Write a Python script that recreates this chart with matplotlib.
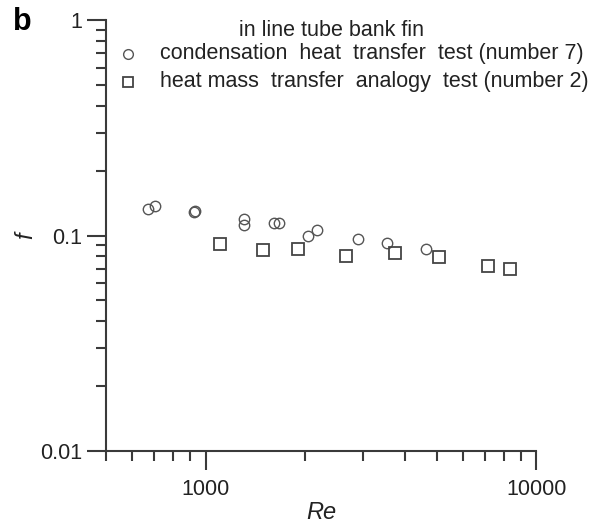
import numpy as np
import matplotlib
matplotlib.use("Agg")
import matplotlib.pyplot as plt
from matplotlib.ticker import LogLocator, NullFormatter, FixedLocator, FixedFormatter

plt.rcParams['font.family'] = ['Liberation Sans', 'DejaVu Sans']

# condensation heat transfer test (number 7)
re_cond = [671, 704, 924, 930, 1310, 1310, 1607, 1664, 2037, 2175, 2895, 3545, 4653]
f_cond = [0.1327, 0.1375, 0.1289, 0.1303, 0.1193, 0.1119, 0.1139, 0.1139,
          0.0992, 0.1060, 0.0963, 0.0926, 0.0863]

# heat mass transfer analogy test (number 2)
re_hm = [1108, 1488, 1900, 2668, 3755, 5088, 7172, 8339]
f_hm = [0.0913, 0.0857, 0.0869, 0.0806, 0.0827, 0.0793, 0.0724, 0.0697]

y_ticks = [0.01, 0.1, 1]
y_labels = ['0.01', '0.1', '1']
x_ticks = [1000, 10000]
x_labels = ['1000', '10000']

col = '#3a3a3a'
txt = '#222222'

fig = plt.figure(figsize=(5.99, 5.27), dpi=100)
ax = fig.add_axes([0.177, 0.1442, 0.718, 0.8178])

ax.plot(re_cond, f_cond, 'o', ms=7.5, mfc='none', mec='#555555', mew=1.0)
ax.plot(re_hm, f_hm, 's', ms=8, mfc='none', mec='#444444', mew=1.3)

ax.set_xscale('log')
ax.set_yscale('log')
ax.set_xlim(500, 10000)
ax.set_ylim(0.01, 1)

ax.xaxis.set_major_locator(FixedLocator(x_ticks))
ax.xaxis.set_major_formatter(FixedFormatter(x_labels))
ax.xaxis.set_minor_locator(LogLocator(base=10, subs=np.arange(2, 10)))
ax.xaxis.set_minor_formatter(NullFormatter())
ax.yaxis.set_major_locator(FixedLocator(y_ticks))
ax.yaxis.set_major_formatter(FixedFormatter(y_labels))
ax.yaxis.set_minor_locator(LogLocator(base=10, subs=np.arange(2, 10)))
ax.yaxis.set_minor_formatter(NullFormatter())

for s in ['top', 'right']:
    ax.spines[s].set_visible(False)
for s in ['left', 'bottom']:
    ax.spines[s].set_linewidth(1.5)
    ax.spines[s].set_color(col)

ax.tick_params(which='major', direction='out', length=14, width=1.5, color=col,
               labelsize=15.5, labelcolor=txt)
ax.tick_params(axis='x', which='major', pad=6)
ax.tick_params(axis='y', which='major', pad=3)
ax.tick_params(which='minor', direction='out', length=7, width=1.5, color=col)

ax.set_xlabel('Re', style='italic', fontsize=17, color=txt, labelpad=1)
ax.set_ylabel('f', style='italic', fontsize=17, color=txt, labelpad=2)

# legend written as text + markers, like the original figure
lx = 127.7 / 599
row1 = 1 - 54 / 527
row2 = 1 - 81.7 / 527
fig.text(0.553, 1 - 30 / 527, 'in line tube bank fin', ha='center', va='center',
         fontsize=15.5, color=txt)
fig.add_artist(plt.Line2D([lx], [row1], marker='o', ms=7, mfc='none',
                          mec='#555555', mew=1.0, transform=fig.transFigure))
fig.add_artist(plt.Line2D([lx], [row2], marker='s', ms=7.5, mfc='none',
                          mec='#444444', mew=1.3, transform=fig.transFigure))
fig.text(160 / 599, row1, 'condensation  heat  transfer  test (number 7)',
         ha='left', va='center', fontsize=15.5, color=txt)
fig.text(160 / 599, row2, 'heat mass  transfer  analogy  test (number 2)',
         ha='left', va='center', fontsize=15.5, color=txt)

fig.text(13 / 599, 1 - 22 / 527, 'b', fontsize=22, fontweight='bold', ha='left', va='center')

fig.savefig('out.png', dpi=100)
